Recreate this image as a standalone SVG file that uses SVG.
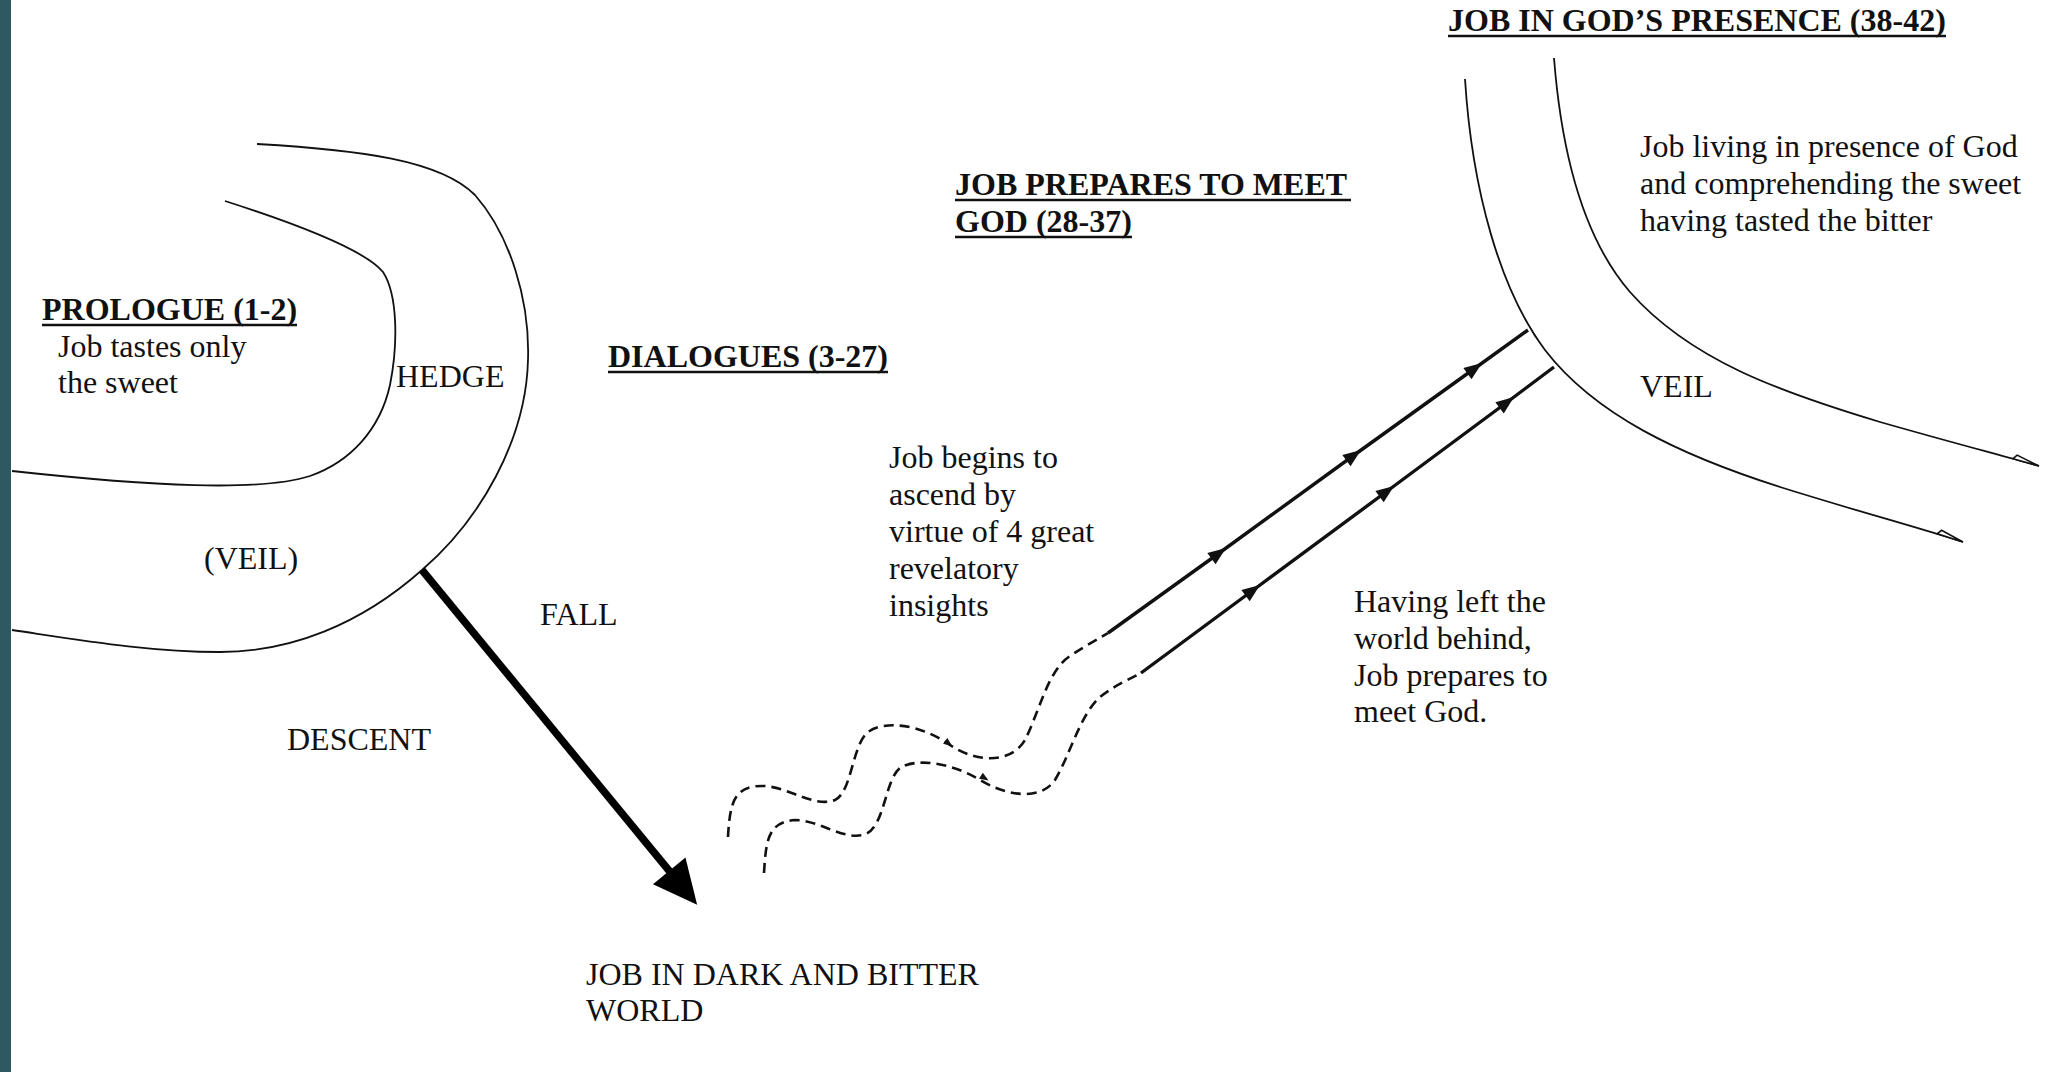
<svg xmlns="http://www.w3.org/2000/svg" width="2056" height="1072" viewBox="0 0 2056 1072">
<style>
text{font-family:"Liberation Serif","Times New Roman",serif;font-size:32px;fill:#111}
.h{font-weight:bold}
.ul{stroke:#111;stroke-width:2.6}
.curve{fill:none;stroke:#111;stroke-width:1.8}
.dash{fill:none;stroke:#111;stroke-width:2.6;stroke-dasharray:10 6}
.solid{fill:none;stroke:#111;stroke-width:3.4}
</style>
<defs>
<marker id="tri" markerUnits="userSpaceOnUse" markerWidth="30" markerHeight="30" viewBox="-15 -15 30 30" refX="0" refY="0" orient="auto" overflow="visible">
<path d="M5,0 L-13,-7 L-13,7 Z" fill="#111"/>
</marker>
<marker id="big" markerUnits="userSpaceOnUse" markerWidth="100" markerHeight="100" viewBox="-50 -50 100 100" refX="0" refY="0" orient="auto" overflow="visible">
<path d="M27,0 L-17,-21 L-17,21 Z" fill="#000"/>
</marker>
<marker id="barb" markerUnits="userSpaceOnUse" markerWidth="40" markerHeight="40" viewBox="-35 -20 40 40" refX="0" refY="0" orient="auto" overflow="visible">
<path d="M0,0 L-27,0 L-24,-4.5 Z" fill="#fff" stroke="#111" stroke-width="1.6" stroke-linejoin="miter"/>
</marker>
<marker id="small" markerUnits="userSpaceOnUse" markerWidth="20" markerHeight="20" viewBox="-10 -10 20 20" refX="0" refY="0" orient="auto" overflow="visible">
<path d="M3,0 L-6,-3.5 L-6,3.5 Z" fill="#111"/>
</marker>
</defs>
<rect x="0" y="0" width="2056" height="1072" fill="#fff"/>
<rect x="0" y="0" width="11" height="1072" fill="#2e5961"/>

<g id="hedge">
<path class="curve" d="M257,144 C360,150 440,160 475,195 C510,235 530,300 528,360 C526,440 480,520 422,570 C360,625 290,652 220,652 C150,652 80,640 12,630"/>
<path class="curve" d="M225,201 C300,225 365,250 383,272 C398,295 398,345 390,385 C380,430 350,462 310,476 C260,492 150,486 12,471"/>
</g>

<g id="god-veil">
<path class="curve" d="M1465,79 C1472,190 1500,290 1545,350 C1595,415 1680,455 1780,487 C1860,512 1920,528 1963,542" marker-end="url(#barb)"/>
<path class="curve" d="M1554,58 C1562,160 1585,240 1630,292 C1690,360 1780,392 1880,422 C1950,442 2000,455 2039,466" marker-end="url(#barb)"/>
</g>

<g id="connectors">
<path d="M422,570 L680,884" fill="none" stroke="#000" stroke-width="7.5" marker-end="url(#big)"/>
<path class="dash" d="M728,837 C730,800 735,785 765,786 C790,788 815,808 835,800 C852,792 852,745 868,732 C885,720 920,724 950,745 C975,762 1010,765 1025,740 C1040,710 1048,670 1070,656 C1085,646 1100,638 1108,633"/>
<path class="dash" d="M764,873 C766,840 768,822 795,820 C820,820 845,842 866,834 C885,825 885,780 900,768 C915,758 950,762 980,780 C1005,795 1040,802 1055,780 C1070,755 1080,715 1100,697 C1115,685 1130,679 1141,673"/>
<path d="M940,737 L950,744.5" fill="none" stroke="none" marker-end="url(#small)"/>
<path d="M975,772 L986,779" fill="none" stroke="none" marker-end="url(#small)"/>
<path class="solid" d="M1108,633 L1222,551 L1357,453 L1478,366 L1528,330" marker-mid="url(#tri)"/>
<path class="solid" d="M1141,673 L1256,588 L1390,489 L1510,400 L1554,367" marker-mid="url(#tri)"/>
</g>

<g id="prologue">
<text class="h" x="42" y="320">PROLOGUE (1-2)</text>
<line class="ul" x1="42" y1="325" x2="297" y2="325"/>
<text x="58" y="357">Job tastes only</text>
<text x="58" y="393">the sweet</text>
</g>
<g id="hedge-label"><text x="396" y="387">HEDGE</text></g>
<g id="veil-left"><text x="204" y="569">(VEIL)</text></g>
<g id="dialogues">
<text class="h" x="608" y="367">DIALOGUES (3-27)</text>
<line class="ul" x1="608" y1="372" x2="888" y2="372"/>
</g>
<g id="fall"><text x="540" y="625">FALL</text></g>
<g id="descent"><text x="287" y="750">DESCENT</text></g>
<g id="dark-world">
<text x="586" y="985">JOB IN DARK AND BITTER</text>
<text x="586" y="1021">WORLD</text>
</g>
<g id="ascend">
<text x="889" y="468">Job begins to</text>
<text x="889" y="505">ascend by</text>
<text x="889" y="542">virtue of 4 great</text>
<text x="889" y="579">revelatory</text>
<text x="889" y="616">insights</text>
</g>
<g id="prepares">
<text class="h" x="955" y="195">JOB PREPARES TO MEET</text>
<line class="ul" x1="955" y1="200" x2="1351" y2="200"/>
<text class="h" x="955" y="232">GOD (28-37)</text>
<line class="ul" x1="955" y1="237" x2="1132" y2="237"/>
</g>
<g id="presence">
<text class="h" x="1448" y="31">JOB IN GOD’S PRESENCE (38-42)</text>
<line class="ul" x1="1448" y1="36" x2="1946" y2="36"/>
</g>
<g id="living">
<text x="1640" y="157">Job living in presence of God</text>
<text x="1640" y="194">and comprehending the sweet</text>
<text x="1640" y="231">having tasted the bitter</text>
</g>
<g id="veil-right"><text x="1640" y="397">VEIL</text></g>
<g id="left-behind">
<text x="1354" y="612">Having left the</text>
<text x="1354" y="649">world behind,</text>
<text x="1354" y="686">Job prepares to</text>
<text x="1354" y="722">meet God.</text>
</g>
</svg>
